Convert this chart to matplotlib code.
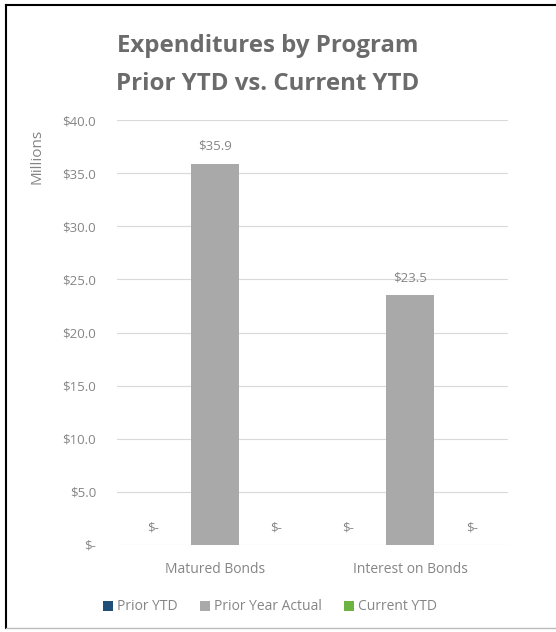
import matplotlib.pyplot as plt
from matplotlib.lines import Line2D
import numpy as np

plt.rcParams['font.family'] = ['Open Sans', 'DejaVu Sans']

categories = ['Matured Bonds', 'Interest on Bonds']
series_names = ['Prior YTD', 'Prior Year Actual', 'Current YTD']
prior_ytd = [0.0, 0.0]
prior_year_actual = [35.9, 23.5]
current_ytd = [0.0, 0.0]
y_ticks = [0, 5, 10, 15, 20, 25, 30, 35, 40]

colors = ['#1F4E79', '#A9A9A9', '#6CB33F']
text_gray = '#858585'


def money(v):
    return '$-' if v == 0 else f'${v:.1f}'


fig = plt.figure(figsize=(5.56, 6.32), dpi=100)
ax = fig.add_axes([117 / 556, 1 - 545 / 632, 391 / 556, 425 / 632])

x = np.arange(len(categories))
width = 0.245
step = 0.316
all_series = [prior_ytd, prior_year_actual, current_ytd]
for i, (vals, name, col) in enumerate(zip(all_series, series_names, colors)):
    pos = x + (i - 1) * step
    ax.bar(pos, vals, width, color=col, label=name, zorder=2)
    for p, v in zip(pos, vals):
        ax.text(p, v + 1.0, money(v), ha='center', va='bottom',
                fontsize=9.5, color=text_gray)

ax.set_xlim(-0.5, 1.5)
ax.set_ylim(0, 40)
ax.set_yticks(y_ticks)
ax.set_yticklabels([money(t) for t in y_ticks])
ax.set_xticks(x)
ax.set_xticklabels(categories)
ax.tick_params(axis='both', length=0, labelsize=9.5, colors=text_gray)
ax.tick_params(axis='y', pad=15)
ax.tick_params(axis='x', labelsize=10, pad=12)
ax.grid(axis='y', color='#D9D9D9', linewidth=0.8, zorder=0)
for s in ax.spines.values():
    s.set_visible(False)

fig.text(37 / 556, 1 - 156 / 632, 'Millions', rotation=90, ha='center',
         va='center', fontsize=11, color=text_gray)

fig.text(268 / 556, 1 - 46 / 632, 'Expenditures by Program', ha='center',
         va='center', fontsize=17.3, fontweight='bold', color='#6B6B6B')
fig.text(268 / 556, 1 - 84 / 632, 'Prior YTD vs. Current YTD', ha='center',
         va='center', fontsize=17.3, fontweight='bold', color='#6B6B6B')

fig.legend(loc='center', bbox_to_anchor=(270 / 556, 1 - 607 / 632), ncol=3,
           frameon=False, fontsize=10, labelcolor=text_gray,
           handlelength=0.7, handleheight=0.7, handletextpad=0.3,
           columnspacing=1.6)

# scanned page border
fig.add_artist(Line2D([6 / 556, 1], [1 - 5 / 632] * 2, color='black', lw=1.5,
                      transform=fig.transFigure))
fig.add_artist(Line2D([6 / 556] * 2, [1 - 628 / 632, 1 - 5 / 632], color='black',
                      lw=1.5, transform=fig.transFigure))
fig.add_artist(Line2D([6 / 556, 1], [1 - 628 / 632] * 2, color='#BBBBBB', lw=1,
                      transform=fig.transFigure))

fig.savefig('out.png', dpi=100)
